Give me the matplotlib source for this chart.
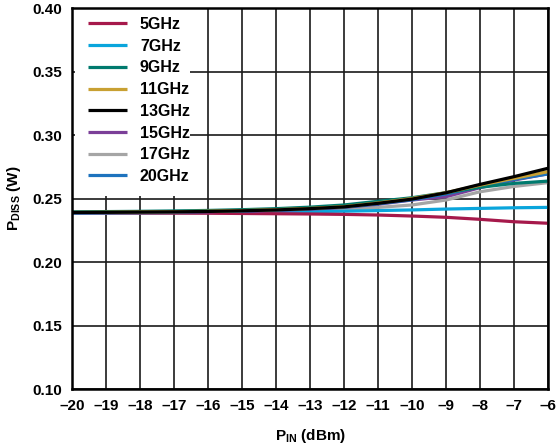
import matplotlib
matplotlib.use("Agg")
import matplotlib.pyplot as plt
from matplotlib.patches import Rectangle

plt.rcParams['font.family'] = ['Liberation Sans', 'DejaVu Sans']
plt.rcParams['font.weight'] = 'bold'
plt.rcParams['axes.labelweight'] = 'bold'
plt.rcParams['mathtext.fontset'] = 'custom'
plt.rcParams['mathtext.rm'] = 'Liberation Sans:bold'
plt.rcParams['mathtext.bf'] = 'Liberation Sans:bold'
plt.rcParams['mathtext.it'] = 'Liberation Sans:bold'

pin = [-20, -19, -18, -17, -16, -15, -14, -13, -12, -11, -10, -9, -8, -7, -6]

p5 = [0.2388, 0.2387, 0.2386, 0.2385, 0.2384, 0.2382, 0.2380, 0.2378, 0.2375, 0.2370, 0.2362, 0.2352, 0.2336, 0.2317, 0.2305]
p7 = [0.2383, 0.2384, 0.2385, 0.2387, 0.2389, 0.2391, 0.2394, 0.2397, 0.2400, 0.2405, 0.2410, 0.2417, 0.2422, 0.2427, 0.2430]
p9 = [0.2395, 0.2397, 0.2399, 0.2402, 0.2406, 0.2412, 0.2420, 0.2432, 0.2449, 0.2478, 0.2506, 0.2546, 0.2588, 0.2619, 0.2637]
p11 = [0.2390, 0.2392, 0.2394, 0.2396, 0.2400, 0.2405, 0.2412, 0.2422, 0.2436, 0.2465, 0.2500, 0.2546, 0.2605, 0.2659, 0.2711]
p13 = [0.2390, 0.2391, 0.2393, 0.2395, 0.2398, 0.2403, 0.2410, 0.2420, 0.2434, 0.2462, 0.2495, 0.2545, 0.2611, 0.2672, 0.2738]
p15 = [0.2389, 0.2390, 0.2392, 0.2394, 0.2397, 0.2401, 0.2407, 0.2416, 0.2430, 0.2455, 0.2488, 0.2514, 0.2585, 0.2645, 0.2695]
p17 = [0.2386, 0.2387, 0.2388, 0.2390, 0.2392, 0.2395, 0.2399, 0.2405, 0.2415, 0.2430, 0.2449, 0.2488, 0.2553, 0.2595, 0.2625]
p20 = [0.2389, 0.2390, 0.2392, 0.2394, 0.2397, 0.2401, 0.2408, 0.2418, 0.2432, 0.2458, 0.2490, 0.2535, 0.2595, 0.2650, 0.2693]

labels = ['5GHz', '7GHz', '9GHz', '11GHz', '13GHz', '15GHz', '17GHz', '20GHz']
colors = ['#A6194B', '#0AA5DC', '#007A6E', '#C8A032', '#000000', '#7B3F98', '#A5A5A5', '#1E73BE']
series = [p5, p7, p9, p11, p13, p15, p17, p20]

xticks = [-20, -19, -18, -17, -16, -15, -14, -13, -12, -11, -10, -9, -8, -7, -6]
yticks = [0.10, 0.15, 0.20, 0.25, 0.30, 0.35, 0.40]

fig = plt.figure(figsize=(5.57, 4.48), dpi=100)
ax = fig.add_axes([72/557, 1-389/448, 476/557, 381/448])

order = [6, 1, 0, 5, 7, 2, 3, 4]
for k, i in enumerate(order):
    ax.plot(pin, series[i], color=colors[i], lw=2.3, label=labels[i], zorder=3 + k * 0.01, solid_capstyle='butt')

ax.set_xlim(-20, -6)
ax.set_ylim(0.10, 0.40)
ax.set_xticks(xticks)
ax.set_xticklabels([f'\u2013{abs(v)}' for v in xticks])
ax.set_yticks(yticks)
ax.set_yticklabels([f'{v:.2f}' for v in yticks])
ax.tick_params(axis='x', length=0, labelsize=11, pad=7)
ax.tick_params(axis='y', length=0, labelsize=11, pad=7)
ax.grid(True, color='#1a1a1a', lw=1.2, zorder=1)
ax.set_axisbelow(True)
for s in ax.spines.values():
    s.set_linewidth(1.8)
    s.set_zorder(5)

ax.add_patch(Rectangle((3/476, (389-196)/381), (190-75)/476, 1 - (389-196)/381,
                       transform=ax.transAxes, facecolor='white', edgecolor='none', zorder=2))

handles, labs = ax.get_legend_handles_labels()
hmap = dict(zip(labs, handles))
leg = ax.legend([hmap[l] for l in labels], labels, loc='upper left', frameon=False,
                fontsize=11.5, handlelength=2.45, handletextpad=0.8, labelspacing=0.42,
                borderaxespad=0.0, borderpad=0.0, bbox_to_anchor=((88-72)/476, (389-17)/381))
leg.set_zorder(6)

ax.set_xlabel(r'$\mathbf{P_{IN}}$ (dBm)', fontsize=11, labelpad=10, fontweight='bold')
ax.set_ylabel(r'$\mathbf{P_{DISS}}$ (W)', fontsize=11, labelpad=7, fontweight='bold')

fig.savefig('out.png', dpi=100)
